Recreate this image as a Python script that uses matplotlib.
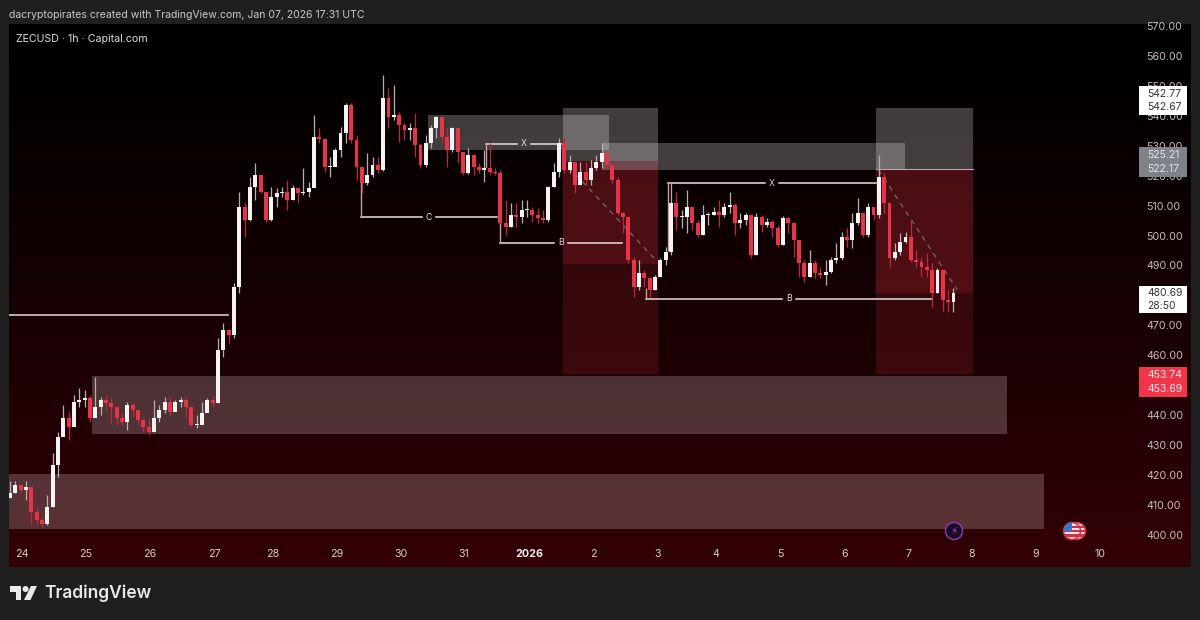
import numpy as np
import matplotlib
matplotlib.use("Agg")
import matplotlib.pyplot as plt
from matplotlib.patches import Rectangle, Circle, Polygon
from matplotlib.transforms import Affine2D

plt.rcParams['font.family'] = ['Inter', 'DejaVu Sans']

# ---------- data (prices, one entry per candle) ----------
closes = [413.9,416.7,415.0,416.1,407.8,405.0,403.7,409.5,423.4,432.8,439.0,436.2,444.5,445.1,445.6,439.0,442.9,445.1,444.0,442.9,
          439.0,437.8,443.4,441.7,438.4,436.2,434.5,439.0,441.7,444.5,441.2,444.5,445.1,442.9,436.7,436.7,440.6,445.1,444.0,461.8,
          468.5,466.8,482.9,509.6,505.2,516.3,520.2,514.6,505.2,513.0,514.1,514.6,511.9,515.8,514.1,514.6,515.8,532.8,532.1,523.0,
          523.0,528.6,534.1,543.6,531.9,523.0,517.4,520.2,523.5,521.9,545.8,539.7,540.2,536.9,535.2,535.8,530.2,523.5,530.8,535.8,
          539.5,533.0,528.6,535.8,528.0,520.8,526.9,523.0,521.9,522.4,521.3,520.8,504.3,503.0,506.8,506.3,508.5,508.5,506.8,505.7,
          505.2,516.3,521.3,530.8,521.9,524.7,516.9,521.3,518.5,522.4,524.7,527.4,523.5,518.5,507.4,506.3,491.8,482.9,487.4,485.7,
          481.8,486.3,491.8,494.6,510.7,506.3,506.3,509.6,504.1,500.2,506.8,506.8,508.0,506.8,509.6,510.2,504.1,505.2,506.8,493.5,
          506.3,503.5,504.6,502.4,496.8,505.7,504.1,498.5,490.7,486.3,490.7,487.4,486.8,487.9,491.8,492.4,499.6,498.5,504.1,507.4,
          500.2,509.6,506.8,519.6,510.7,492.4,494.6,497.9,499.6,491.8,491.3,489.6,488.5,480.7,488.5,478.5,477.9,480.7]
highs = [418.1,418.1,416.7,418.1,411.7,408.9,405.6,413.4,427.3,434.5,443.4,441.2,446.7,449.0,448.4,446.7,452.9,446.2,446.7,445.6,
         442.9,440.6,444.5,444.0,441.2,439.0,439.0,445.1,443.4,446.2,446.2,445.1,446.0,446.2,442.9,440.1,444.5,445.6,446.4,465.7,
         470.7,467.9,484.0,514.6,510.7,519.6,524.1,520.2,514.1,516.3,515.8,516.3,518.5,516.9,515.8,522.4,518.0,540.2,535.8,531.9,
         526.3,529.1,536.3,544.1,544.1,533.6,520.2,527.4,526.3,526.3,553.6,549.1,550.3,541.4,537.5,537.5,540.8,530.8,533.6,536.9,
         539.9,538.6,535.8,536.3,535.2,526.3,529.1,525.8,524.1,528.6,530.8,522.4,521.9,511.9,510.7,510.7,511.9,511.9,509.6,509.1,
         508.5,516.5,524.1,532.4,533.0,526.9,524.7,524.7,524.7,525.2,526.9,530.8,526.9,524.7,519.6,508.0,505.7,492.9,491.8,488.5,
         486.3,486.8,492.4,496.3,517.4,514.6,508.5,515.2,509.6,505.2,510.2,508.0,509.6,511.9,510.7,514.6,510.7,507.4,507.4,506.8,
         507.4,506.8,505.7,505.2,503.5,506.5,506.3,503.5,498.5,491.8,495.2,491.8,489.6,491.8,492.9,497.4,501.3,502.4,507.4,512.4,
         507.4,510.7,509.6,526.9,520.8,507.4,497.4,500.7,501.3,505.2,495.2,492.9,494.0,490.7,489.0,485.1,481.8,482.4]
lows = [412.2,413.9,413.9,411.7,403.3,403.3,402.6,403.3,409.5,419.5,433.9,431.7,441.2,442.9,442.9,437.8,441.7,440.1,441.7,437.3,
        436.7,436.7,435.1,439.5,436.7,434.5,433.4,434.5,437.8,440.6,440.1,441.7,442.9,439.5,436.2,435.6,437.3,441.7,442.9,444.0,
        459.5,464.0,465.7,480.7,499.6,505.0,511.9,514.1,504.6,505.0,509.6,513.0,508.5,511.9,510.7,513.5,513.0,516.3,530.8,521.3,
        519.6,525.2,526.3,530.8,530.8,518.5,514.1,517.0,519.6,520.8,521.5,535.8,538.6,531.3,531.9,531.9,526.3,523.0,523.0,529.1,
        532.4,530.8,523.0,528.0,524.1,520.2,520.5,520.2,520.8,518.0,520.2,520.2,504.1,500.2,503.0,503.0,504.1,506.3,504.6,504.1,
        504.1,504.6,516.3,519.6,520.8,520.8,514.1,516.9,516.9,516.9,521.9,522.4,522.4,517.4,506.8,500.7,490.7,479.6,481.8,482.9,
        479.6,481.8,486.3,490.2,493.5,501.8,502.4,500.7,501.8,499.6,500.2,503.5,506.8,503.0,506.3,507.4,500.2,502.4,503.5,492.4,
        493.5,501.3,503.0,499.6,496.3,496.8,500.7,492.9,486.3,484.6,486.3,485.7,485.7,483.5,487.4,490.7,491.8,496.3,495.7,503.5,
        499.6,499.6,505.2,506.0,507.4,489.6,491.8,493.5,497.4,491.3,489.6,486.3,486.3,476.2,480.7,474.9,474.6,474.6]
first_open = 412.5

# 450 and 480 sit fully under the price badges in the reference
price_ticks = [p for p in range(400, 580, 10) if p not in (450, 480)]
day_labels = ['24','25','26','27','28','29','30','31','2026','2','3','4','5','6','7','8','9','10']
day_ticks = [2.4,14.4,26.5,38.5,49.5,61.5,73.5,85.4,97.6,109.6,121.6,132.6,144.7,156.7,168.7,180.7,192.7,204.7]

# zones: (left candle, right candle, top price, bottom price)
light_zones = [(15.6,187.2,453.1,433.6),(0.0,194.2,420.3,401.9)]
grey_zones = [(78.6,112.6,540.2,528.5),(111.3,168.1,530.8,522.0),(103.9,121.8,542.7,525.0),(162.7,180.9,542.6,522.2)]
red_zones = [(103.9,121.8,525.0,453.7),(103.9,121.8,525.0,490.6),(162.7,180.9,522.2,453.7),(162.7,180.9,522.2,480.7)]

# labelled levels: (start candle, end candle, level, far end of the corner stroke, label)
levels = [(66.0,91.5,506.1,519.5,'C'),(92.1,115.1,497.5,511.9,'B'),(89.5,103.6,530.7,522.9,'X'),
          (123.6,162.7,517.4,495.2,'X'),(119.5,173.2,478.8,482.1,'B')]
old_high = (0.0,41.0,473.3)
dashes = [((105.0,522.9),(121.3,491.9)),((163.1,522.0),(177.9,481.9))]

# price badges: (centre price, half height, colour, text colour, first, second)
badges = [(545.05,4.9,'#ffffff','#333333','542.77','542.67'),
          (524.5,5.0,'#7e8289','#e4e4e8','525.21','522.17'),
          (478.6,4.5,'#ffffff','#333333','480.69','28:50'),
          (451.1,5.0,'#f0364a','#ffe6e8','453.74','453.69')]

# ---------- figure ----------
BG = '#1f1f1f'
fig = plt.figure(figsize=(12, 6.2), dpi=100, facecolor=BG)
L, R, T, B = 9, 1191, 24, 567
ax = fig.add_axes([L/1200, 1-B/620, (R-L)/1200, (B-T)/620])
PX = 5.33
x_lim = (0, (R-L)/PX)
y_lim = (400-(B-535)/2.995, 400+(535-T)/2.995)
for s in ax.spines.values():
    s.set_visible(False)

# gradient background
grad = (np.linspace(0, 1, 256)**1.25)[:, None, None] * np.array([[[0x33, 0x00, 0x06]]]) / 255
ax.imshow(grad, extent=[x_lim[0], x_lim[1], y_lim[0], y_lim[1]], aspect='auto', origin='upper', zorder=0)
ax.set_xlim(*x_lim)
ax.set_ylim(*y_lim)

def zone(z, fc, alpha, zo=1):
    ax.add_patch(Rectangle((z[0], z[3]), z[1]-z[0], z[2]-z[3], fc=fc, ec='none', alpha=alpha, zorder=zo))

for z in light_zones:
    zone(z, '#ffecec', 0.21)
for z in red_zones:
    zone(z, '#f23645', 0.15)
for z in grey_zones:
    zone(z, '#ffffff', 0.24)
ax.plot([162.7, 180.9], [522.2, 522.2], color='#b9a6a6', lw=0.8, zorder=2)

# annotation lines
LINE = '#e9dddd'
ax.plot(old_high[:2], [old_high[2]]*2, color=LINE, lw=1.1, zorder=3)
for x0, x1, lev, far, lab in levels:
    mid = (x0+x1)/2
    ax.plot([x0, mid-1.3], [lev, lev], color=LINE, lw=1.1, zorder=3)
    ax.plot([mid+1.3, x1], [lev, lev], color=LINE, lw=1.1, zorder=3)
    ax.plot([x0, x0], [lev, far], color='#c9a0a4', lw=1.0, zorder=3)
    ax.text(mid, lev, lab, color='#e6dcdc', fontsize=6.3, ha='center', va='center', zorder=3)
for a, b in dashes:
    ax.plot([a[0], b[0]], [a[1], b[1]], color='#77696b', lw=0.9, ls=(0, (4, 4)), zorder=3)

# candles
closes_a = np.array(closes)
opens_a = np.r_[first_open, closes_a[:-1]]
highs_a = np.array(highs)
lows_a = np.array(lows)
idx = np.arange(len(closes_a)) + 0.2
up = closes_a >= opens_a
ax.vlines(idx[up], lows_a[up], highs_a[up], color='#b4b0b0', lw=0.9, zorder=4)
ax.vlines(idx[~up], lows_a[~up], highs_a[~up], color='#b92a3c', lw=0.9, zorder=4)
W = 0.74
ax.bar(idx[up], (closes_a-opens_a)[up].clip(0.35), bottom=opens_a[up], width=W, color='#f6f3f3', zorder=5)
ax.bar(idx[~up], (opens_a-closes_a)[~up].clip(0.35), bottom=closes_a[~up], width=W, color='#e8334a', zorder=5)

# axes labels (inside the plot panel)
ax.yaxis.tick_right()
ax.set_yticks(price_ticks)
ax.set_yticklabels([f'{p:.2f}' for p in price_ticks])
ax.tick_params(axis='y', length=0, pad=-32, labelsize=7.7, labelcolor='#c6bcbc')
for t in ax.get_yticklabels():
    t.set_ha('left')
ax.set_xticks(day_ticks)
ax.set_xticklabels(day_labels)
ax.tick_params(axis='x', length=0, pad=-13, labelsize=7.7, labelcolor='#d4cccc')
for t, lab in zip(ax.get_xticklabels(), day_labels):
    if lab == '2026':
        t.set_fontweight('bold')
        t.set_color('#eeeeee')
for t in ax.get_yticklabels() + ax.get_xticklabels():
    t.set_zorder(6)

# badges
bx0, bx1 = (1139-L)/PX, (1187-L)/PX
tx = (1147-L)/PX
for c, h, fc, tc, a, b in badges:
    ax.add_patch(Rectangle((bx0, c-h), bx1-bx0, 2*h, fc=fc, ec='none', zorder=7))
    ax.text(tx, c+2.3, a, color=tc, fontsize=7.5, va='center', ha='left', zorder=8)
    ax.text(tx, c-2.3, b, color=tc, fontsize=7.5, va='center', ha='left', zorder=8)

# pixel-space furniture
pix = Affine2D().scale(1, -1).translate(0, 620)
def add(p):
    p.set_transform(pix)
    fig.add_artist(p)
    return p

# event icons
add(Circle((954, 531), 8.5, fc='#1a0a24', ec='#8a3fb0', lw=1.0, zorder=9))
fig.text(954/1200, 1-531/620, '\u26a1', color='#b04fe0', fontsize=7.5, ha='center', va='center',
         family='DejaVu Sans', zorder=10)
for cx in (1077, 1072):
    c = add(Circle((cx, 531), 8.5, fc='#e8e4e8', ec='#d62f44', lw=1.1, zorder=9))
    for k in range(3):
        s = add(Rectangle((cx-9, 526+k*4.2), 18, 2.1, fc='#d62f44', ec='none', zorder=9))
        s.set_clip_path(c)
    s = add(Rectangle((cx-9, 522), 9, 9, fc='#2f78d0', ec='none', zorder=9))
    s.set_clip_path(c)

# header and footer
fig.text(9/1200, 1-15.5/620, 'dacryptopirates created with TradingView.com, Jan 07, 2026 17:31 UTC',
         color='#c9c9c9', fontsize=7.55, va='center', ha='left')
fig.text(16/1200, 1-39.5/620, 'ZECUSD \u00b7 1h \u00b7 Capital.com', color='#dcdcdc', fontsize=7.66, va='center', ha='left')
LOGO = '#e9e9e9'
add(Polygon([(10,586),(21,586),(21,600),(16,600),(16,592),(10,592)], fc=LOGO, ec='none'))
add(Circle((25.5, 589), 3, fc=LOGO, ec='none'))
add(Polygon([(31,586),(37,586),(30.5,600),(24,600)], fc=LOGO, ec='none'))
fig.text(44/1200, 1-593.5/620, 'TradingView', color=LOGO, fontsize=12.5, fontweight='semibold', va='center', ha='left')

fig.savefig('out.png', dpi=100, facecolor=BG)
